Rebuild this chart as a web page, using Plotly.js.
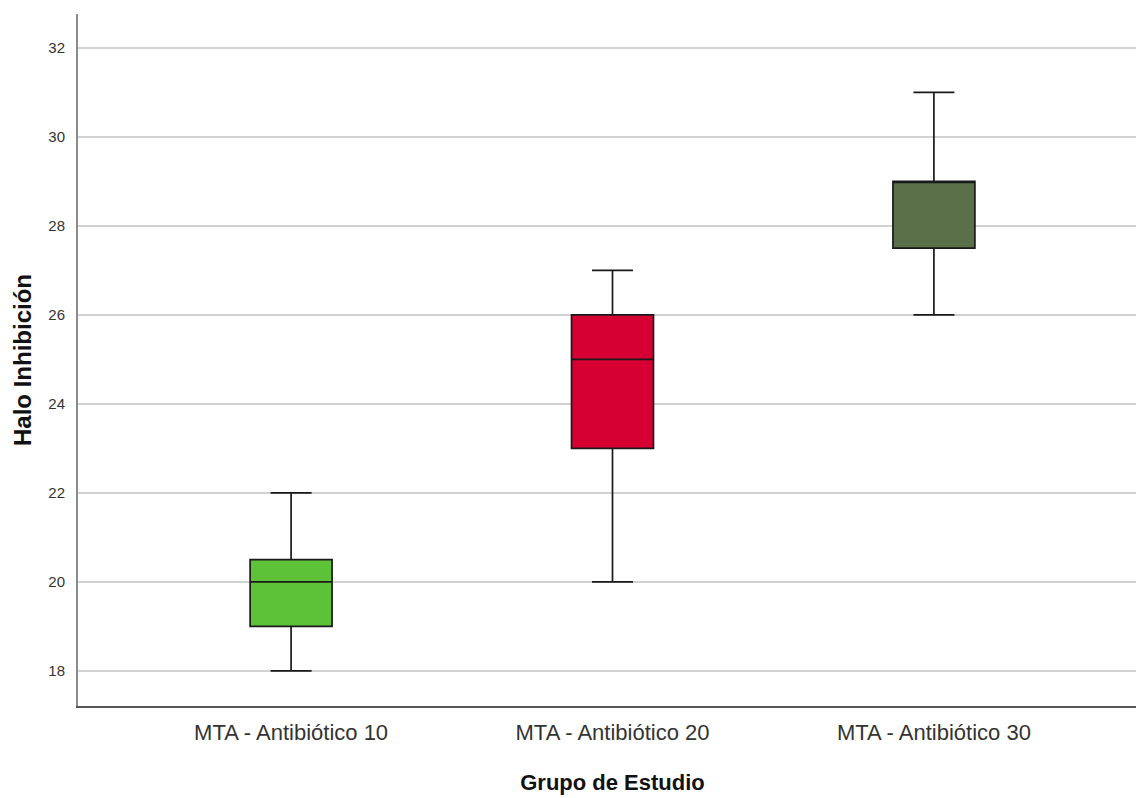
<!DOCTYPE html>
<html><head><meta charset="utf-8">
<script src="https://cdn.plot.ly/plotly-3.0.1.min.js"></script>
<style>html,body{margin:0;padding:0;overflow:hidden;background:#fff}</style>
</head><body><div id="chart"></div>
<script>
const categories = ["MTA - Antibiótico 10", "MTA - Antibiótico 20", "MTA - Antibiótico 30"];
const q1 = [19, 23, 27.5];
const median = [20, 25, 29];
const q3 = [20.5, 26, 29];
const lowerWhisker = [18, 20, 26];
const upperWhisker = [22, 27, 31];
const colors = ["#5DC238", "#D60032", "#5A7049"];
const yTicks = [18, 20, 22, 24, 26, 28, 30, 32];

const traces = categories.map((c, i) => ({
  type: "box",
  x: [c],
  q1: [q1[i]], median: [median[i]], q3: [q3[i]],
  lowerfence: [lowerWhisker[i]], upperfence: [upperWhisker[i]],
  fillcolor: colors[i],
  line: {color: "#1a1a1a", width: 1.7},
  whiskerwidth: 0.5,
  width: 0.255,
  boxpoints: false,
  hoverinfo: "none",
  showlegend: false
}));

const layout = {
  width: 1150, height: 798,
  margin: {l: 78, r: 3, t: 14, b: 92},
  paper_bgcolor: "#fff", plot_bgcolor: "#fff",
  font: {family: "Liberation Sans, Arial, sans-serif", color: "#222"},
  xaxis: {
    type: "category", range: [-0.663, 2.663],
    showgrid: false, zeroline: false,
    showline: true, linecolor: "#555", linewidth: 1.5,
    ticks: "", tickfont: {size: 22, color: "#333"}, ticklabelstandoff: 6,
    title: {text: "<b>Grupo de Estudio</b>", font: {size: 22, color: "#111"}, standoff: 30}
  },
  yaxis: {
    range: [17.21, 32.76], automargin: true,
    tickvals: yTicks, ticktext: yTicks.map(String),
    showgrid: true, gridcolor: "#d2d2d2", gridwidth: 2,
    zeroline: false, showline: true, linecolor: "#8c8c8c", linewidth: 2,
    ticks: "", tickfont: {size: 15, color: "#333"}, ticklabelstandoff: 8,
    title: {text: "<b>Halo Inhibición</b>", font: {size: 24, color: "#111"}, standoff: 10}
  }
};
Plotly.newPlot("chart", traces, layout, {displayModeBar: false, staticPlot: true});
</script></body></html>
